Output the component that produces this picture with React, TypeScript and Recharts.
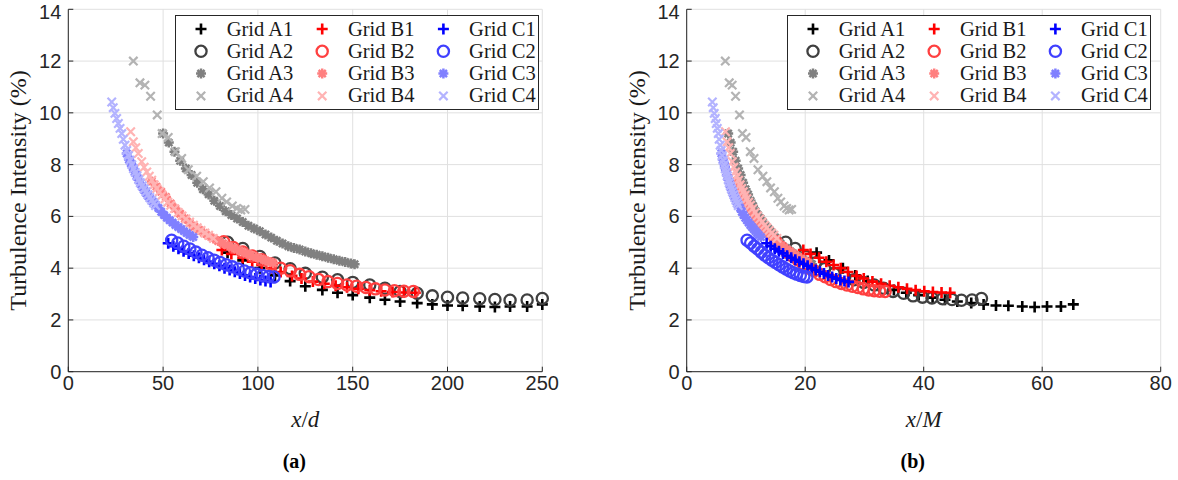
import React from 'react';
import { ScatterChart, Scatter, XAxis, YAxis, CartesianGrid } from 'recharts';

// streamwise position x/d and turbulence intensity (%) for each grid
const xA1 = [84, 92, 101, 109, 117, 125, 134, 142, 150, 159, 167, 175, 184, 192, 200, 208, 217, 225, 233, 242, 250];
const tiA1 = [4.6, 4.3, 4.0, 3.72, 3.5, 3.3, 3.16, 3.05, 2.96, 2.86, 2.78, 2.71, 2.65, 2.6, 2.56, 2.55, 2.52, 2.5, 2.52, 2.52, 2.6];
const xA2 = [84, 92, 101, 109, 117, 125, 134, 142, 150, 159, 167, 175, 184, 192, 200, 208, 217, 225, 233, 242, 250];
const tiA2 = [5.0, 4.76, 4.45, 4.2, 3.98, 3.8, 3.65, 3.55, 3.45, 3.35, 3.22, 3.1, 3.03, 2.93, 2.88, 2.85, 2.82, 2.79, 2.76, 2.77, 2.83];
const xA3 = [50, 53, 56, 59, 62, 65, 68, 71, 74, 77, 80, 83, 86, 89, 92, 95, 98, 101, 104, 107, 110, 113, 116, 119, 122, 125, 128, 131, 134, 137, 140, 143, 146, 149, 151];
const tiA3 = [9.2, 8.85, 8.5, 8.15, 7.85, 7.6, 7.3, 7.05, 6.85, 6.6, 6.4, 6.2, 6.05, 5.92, 5.78, 5.64, 5.53, 5.43, 5.3, 5.18, 5.06, 4.95, 4.85, 4.78, 4.72, 4.64, 4.58, 4.52, 4.46, 4.4, 4.34, 4.29, 4.24, 4.18, 4.15];
const xA4 = [34.3, 37.8, 40.4, 43.4, 46.9, 49.5, 52.7, 56.5, 59.8, 63.3, 67.7, 71.2, 74.5, 77.9, 81, 83.5, 86.5, 88.8, 91, 93.2];
const tiA4 = [12.0, 11.16, 11.07, 10.64, 9.92, 9.2, 9.05, 8.5, 8.24, 7.8, 7.55, 7.34, 7.1, 6.95, 6.7, 6.56, 6.4, 6.31, 6.25, 6.27];

const xB1 = [81, 86, 92, 97, 102, 107, 112, 118, 123, 129, 135, 141, 147, 153, 159, 165, 171, 177, 183];
const tiB1 = [4.7, 4.55, 4.4, 4.25, 4.12, 4.0, 3.85, 3.7, 3.6, 3.48, 3.4, 3.32, 3.26, 3.2, 3.15, 3.11, 3.08, 3.06, 3.05];
const xB2 = [82, 87, 92, 97, 102, 107, 112, 117, 122, 127, 132, 137, 142, 147, 152, 157, 162, 167, 172, 177, 182];
const tiB2 = [5.02, 4.8, 4.62, 4.47, 4.32, 4.16, 4.0, 3.9, 3.76, 3.67, 3.56, 3.48, 3.41, 3.35, 3.3, 3.25, 3.2, 3.16, 3.13, 3.11, 3.1];
const xB3 = [44, 46.5, 49, 51.5, 54, 56.5, 59, 61.5, 64, 66.5, 69, 71.5, 74, 76.5, 79, 81.5, 84, 86.5, 89, 91.5, 94, 96.5, 99, 101.5, 104, 106.5, 108];
const tiB3 = [7.35, 7.15, 6.95, 6.75, 6.5, 6.3, 6.1, 5.92, 5.75, 5.6, 5.48, 5.36, 5.25, 5.15, 5.05, 4.96, 4.88, 4.8, 4.72, 4.64, 4.57, 4.5, 4.43, 4.36, 4.3, 4.24, 4.2];
const xB4 = [32.9, 34.3, 35.6, 36.9, 38.7, 40, 41.4, 42.7, 44, 45.3, 46.6, 48, 49.5, 51, 52.5, 54, 56, 58, 60, 62, 64, 66, 68, 70, 72, 74, 76.5];
const tiB4 = [9.27, 8.88, 8.65, 8.43, 8.11, 7.9, 7.72, 7.55, 7.4, 7.22, 7.08, 6.95, 6.82, 6.68, 6.55, 6.43, 6.3, 6.15, 6.02, 5.9, 5.78, 5.66, 5.56, 5.46, 5.36, 5.27, 5.15];

const xC1 = [52.7, 55.4, 58.1, 60.8, 63.5, 66.2, 68.9, 71.6, 74.3, 77, 79.7, 82.4, 85.1, 87.8, 90.5, 93.2, 95.9, 98.6, 101.3, 104, 106.7];
const tiC1 = [4.96, 4.85, 4.75, 4.65, 4.57, 4.48, 4.4, 4.32, 4.25, 4.17, 4.09, 4.0, 3.93, 3.86, 3.79, 3.72, 3.66, 3.6, 3.54, 3.5, 3.47];
const xC2 = [54.5, 57.7, 60.9, 64.1, 67.3, 70.5, 73.7, 76.9, 80.1, 83.3, 86.5, 89.7, 92.9, 96.1, 99.3, 102.5, 105.7, 108.5];
const tiC2 = [5.08, 4.97, 4.85, 4.74, 4.62, 4.5, 4.4, 4.31, 4.22, 4.13, 4.05, 3.97, 3.89, 3.82, 3.77, 3.72, 3.68, 3.66];
const xC3 = [30.8, 32, 33, 34, 35, 36, 37, 38, 39, 40, 41, 42, 43, 44.5, 46, 47.5, 49, 50.5, 52, 53.5, 55, 56.5, 58, 59.5, 61, 62.5, 64, 65.9];
const tiC3 = [8.43, 8.2, 8.05, 7.9, 7.72, 7.58, 7.42, 7.28, 7.14, 7.02, 6.9, 6.8, 6.7, 6.58, 6.45, 6.32, 6.18, 6.05, 5.95, 5.85, 5.76, 5.67, 5.59, 5.51, 5.43, 5.36, 5.28, 5.2];
const xC4 = [22.9, 23.7, 24.6, 25.5, 26.4, 27.3, 28.2, 29, 29.9, 30.8, 31.7, 32.6, 33.5, 34.4, 35.3, 36.2, 37.1, 38, 39, 40, 41, 42, 43, 44, 45, 46];
const tiC4 = [10.42, 10.2, 9.98, 9.78, 9.59, 9.4, 9.2, 8.98, 8.75, 8.55, 8.35, 8.17, 8.0, 7.84, 7.7, 7.56, 7.42, 7.3, 7.18, 7.06, 6.95, 6.84, 6.73, 6.62, 6.52, 6.42];

const gridNames = ['Grid A1', 'Grid A2', 'Grid A3', 'Grid A4', 'Grid B1', 'Grid B2', 'Grid B3', 'Grid B4', 'Grid C1', 'Grid C2', 'Grid C3', 'Grid C4'];
const xdValues = [xA1, xA2, xA3, xA4, xB1, xB2, xB3, xB4, xC1, xC2, xC3, xC4];
const tiValues = [tiA1, tiA2, tiA3, tiA4, tiB1, tiB2, tiB3, tiB4, tiC1, tiC2, tiC3, tiC4];
// d/M of each grid (converts x/d to x/M for panel b)
const dOverM = [0.261, 0.199, 0.14, 0.19, 0.243, 0.184, 0.19, 0.199, 0.256, 0.187, 0.19, 0.189];

const ticksXd = [0, 50, 100, 150, 200, 250];
const ticksXM = [0, 20, 40, 60, 80];
const ticksTI = [0, 2, 4, 6, 8, 10, 12, 14];

// styling
const colors = ['#000000', '#404040', '#808080', '#b3b3b3', '#ff0000', '#ff4040', '#ff8080', '#ffb3b3', '#0000ff', '#4040ff', '#8080ff', '#b3b3ff'];
const kinds = ['plus', 'circle', 'star', 'cross'];
const AXIS = '#262626';
const SERIF = '"Liberation Serif", "Times New Roman", serif';
const SANS = '"Liberation Sans", Arial, sans-serif';

const Marker = ({ kind, color, cx, cy }: { kind: string; color: string; cx: number; cy: number }) => {
  if (cx == null || cy == null) return null;
  if (kind === 'plus') {
    const h = 5.5;
    return <path d={`M${cx - h},${cy}H${cx + h}M${cx},${cy - h}V${cy + h}`} stroke={color} strokeWidth={2.6} fill="none" />;
  }
  if (kind === 'circle') {
    return <circle cx={cx} cy={cy} r={5.6} stroke={color} strokeWidth={2.3} fill="none" />;
  }
  if (kind === 'cross') {
    const h = 4.2;
    return <path d={`M${cx - h},${cy - h}L${cx + h},${cy + h}M${cx - h},${cy + h}L${cx + h},${cy - h}`} stroke={color} strokeWidth={2.2} fill="none" />;
  }
  const h = 5;
  const d = 3.6;
  return (
    <path
      d={`M${cx - h},${cy}H${cx + h}M${cx},${cy - h}V${cy + h}M${cx - d},${cy - d}L${cx + d},${cy + d}M${cx - d},${cy + d}L${cx + d},${cy - d}`}
      stroke={color}
      strokeWidth={2.5}
      fill="none"
    />
  );
};

const XTitle = ({ viewBox, sym, tag }: any) => {
  const cx = viewBox.x + viewBox.width / 2;
  return (
    <g>
      <text x={cx} y={viewBox.y + 55} textAnchor="middle" fontFamily={SERIF} fontSize={23} fill="#1a1a1a">
        <tspan fontStyle="italic">x</tspan>/<tspan fontStyle="italic">{sym}</tspan>
      </text>
      <text x={cx - 11} y={viewBox.y + 96} textAnchor="middle" fontFamily={SERIF} fontSize={20} fontWeight="bold" fill="#000">
        ({tag})
      </text>
    </g>
  );
};

const YTitle = ({ viewBox }: any) => {
  const x = viewBox.x + viewBox.width - 50;
  const y = viewBox.y + viewBox.height / 2;
  return (
    <text x={x} y={y} transform={`rotate(-90 ${x} ${y})`} textAnchor="middle" dominantBaseline="central" fontFamily={SERIF} fontSize={24} fill="#1a1a1a">
      Turbulence Intensity (%)
    </text>
  );
};

const LegendBox = ({ left }: { left: number }) => (
  <svg style={{ position: 'absolute', left, top: 15 }} width={364} height={95}>
    <rect x={0.5} y={0.5} width={363} height={94} fill="#fff" stroke={AXIS} strokeWidth={1} />
    {gridNames.map((name, i) => {
      const mx = 26 + Math.floor(i / 4) * 121.2;
      const my = 14 + (i % 4) * 22.3;
      return (
        <g key={name}>
          <Marker kind={kinds[i % 4]} color={colors[i]} cx={mx} cy={my} />
          <text x={mx + 25.7} y={my + 6.5} fontFamily={SERIF} fontSize={20.5} fill="#1a1a1a">
            {name}
          </text>
        </g>
      );
    })}
  </svg>
);

const Panel = ({ left, width, margin, xMax, ticks, useM, sym, tag }: any) => (
  <div style={{ position: 'absolute', left, top: 0 }}>
    <ScatterChart width={width} height={480} margin={margin}>
      <CartesianGrid stroke="#e0e0e0" strokeWidth={1} />
      <XAxis
        type="number"
        dataKey="x"
        domain={[0, xMax]}
        ticks={ticks}
        height={40}
        tickSize={-5}
        tickMargin={9}
        axisLine={{ stroke: AXIS }}
        tickLine={{ stroke: AXIS }}
        tick={{ fontSize: 20, fill: AXIS, fontFamily: SANS }}
        label={<XTitle sym={sym} tag={tag} />}
      />
      <XAxis xAxisId="top" orientation="top" type="number" domain={[0, xMax]} ticks={ticks} height={0} tickSize={-5} tick={false} axisLine={{ stroke: AXIS }} tickLine={{ stroke: AXIS }} />
      <YAxis
        type="number"
        dataKey="y"
        domain={[0, 14]}
        ticks={ticksTI}
        width={60}
        tickSize={-5}
        tickMargin={12}
        axisLine={{ stroke: AXIS }}
        tickLine={{ stroke: AXIS }}
        tick={{ fontSize: 20, fill: AXIS, fontFamily: SANS }}
        label={<YTitle />}
      />
      <YAxis yAxisId="right" orientation="right" type="number" domain={[0, 14]} ticks={ticksTI} width={0} tickSize={-5} tick={false} axisLine={{ stroke: AXIS }} tickLine={{ stroke: AXIS }} />
      {gridNames.map((name, i) => (
        <Scatter
          key={name}
          name={name}
          data={xdValues[i].map((v, j) => ({ x: useM ? v * dOverM[i] : v, y: tiValues[i][j] }))}
          isAnimationActive={false}
          shape={(p: any) => <Marker kind={kinds[i % 4]} color={colors[i]} cx={p.cx} cy={p.cy} />}
        />
      ))}
    </ScatterChart>
  </div>
);

export default function App() {
  return (
    <div style={{ position: 'absolute', left: 0, top: 0, width: 1178, height: 480, background: '#fff' }}>
      <Panel left={0} width={590} margin={{ top: 9.3, right: 47.7, bottom: 68.3, left: 8.3 }} xMax={250} ticks={ticksXd} useM={false} sym="d" tag="a" />
      <Panel left={590} width={588} margin={{ top: 9.3, right: 17.3, bottom: 68.3, left: 36.7 }} xMax={80} ticks={ticksXM} useM sym="M" tag="b" />
      <LegendBox left={175} />
      <LegendBox left={787} />
    </div>
  );
}
